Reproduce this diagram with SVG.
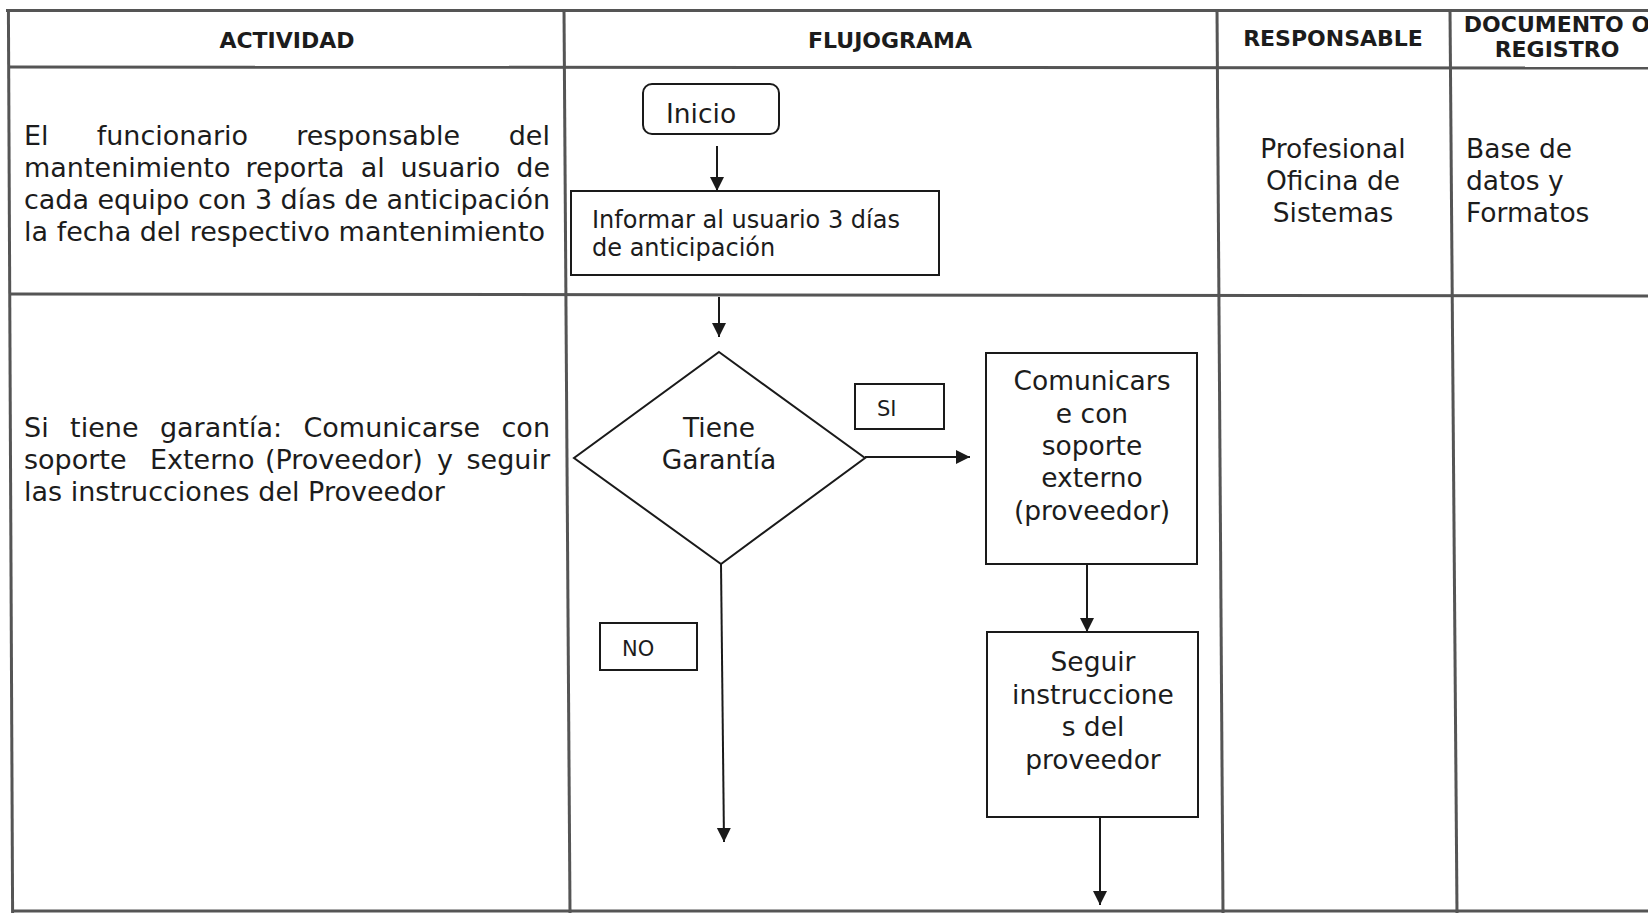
<svg xmlns="http://www.w3.org/2000/svg" width="1648" height="913" viewBox="0 0 1648 913">
<defs>
<marker id="arr" markerUnits="userSpaceOnUse" markerWidth="14" markerHeight="16" refX="14" refY="7" orient="auto">
<path d="M0,0 L14,7 L0,14 Z" fill="#1a1a1a"/>
</marker>
<style>
.grid{stroke:#555;stroke-width:3;fill:none}
.hd{font-family:"DejaVu Sans",Verdana,sans-serif;font-weight:bold;font-size:22px;fill:#1c1c1c;text-anchor:middle}
.tx{font-family:"DejaVu Sans",Verdana,sans-serif;font-size:26.5px;fill:#1c1c1c}
.ta{font-family:"DejaVu Sans",Verdana,sans-serif;font-size:27px;fill:#1c1c1c}
.txc{font-family:"DejaVu Sans",Verdana,sans-serif;font-size:26.5px;fill:#1c1c1c;text-anchor:middle}
.sm{font-family:"DejaVu Sans",Verdana,sans-serif;font-size:24px;fill:#1c1c1c}
.lb{font-family:"DejaVu Sans",Verdana,sans-serif;font-size:21px;fill:#1c1c1c}
.shape{fill:#fff;stroke:#1a1a1a;stroke-width:2}
.conn{stroke:#1a1a1a;stroke-width:2;fill:none}
</style>
</defs>
<rect width="1648" height="913" fill="#fff"/>
<g id="table">
<line class="grid" x1="6" y1="10.5" x2="1660" y2="10.5"/>
<line class="grid" x1="8" y1="67" x2="1660" y2="68"/>
<line class="grid" x1="9" y1="294" x2="1660" y2="296"/>
<line class="grid" x1="12" y1="911" x2="1660" y2="911"/>
<line class="grid" x1="8.4" y1="9" x2="12.6" y2="913"/>
<line class="grid" x1="564" y1="9" x2="570" y2="913"/>
<line class="grid" x1="1217" y1="9" x2="1223" y2="913"/>
<line class="grid" x1="1450" y1="9" x2="1457" y2="913"/>
</g>
<g id="headers">
<text class="hd" x="287" y="48">ACTIVIDAD</text>
<text class="hd" x="890" y="48">FLUJOGRAMA</text>
<text class="hd" x="1333" y="46">RESPONSABLE</text>
<text class="hd" x="1557" y="32">DOCUMENTO O</text>
<text class="hd" x="1557" y="57">REGISTRO</text>
</g>
<g id="actividad1">
<text class="ta" x="24" y="145">El</text>
<text class="ta" x="96.7" y="145">funcionario</text>
<text class="ta" x="296.2" y="145">responsable</text>
<text class="ta" x="550" y="145" text-anchor="end">del</text>
<text class="ta" x="24" y="177">mantenimiento</text>
<text class="ta" x="245.6" y="177">reporta</text>
<text class="ta" x="360.8" y="177">al</text>
<text class="ta" x="400.4" y="177">usuario</text>
<text class="ta" x="550" y="177" text-anchor="end">de</text>
<text class="ta" x="24" y="209" textLength="526" lengthAdjust="spacing">cada equipo con 3 días de anticipación</text>
<text class="ta" x="24" y="241">la fecha del respectivo mantenimiento</text>
</g>
<g id="actividad2">
<text class="ta" x="24" y="437">Si</text>
<text class="ta" x="70.1" y="437">tiene</text>
<text class="ta" x="159.9" y="437">garantía:</text>
<text class="ta" x="303.5" y="437">Comunicarse</text>
<text class="ta" x="550" y="437" text-anchor="end">con</text>
<text class="ta" x="24" y="469">soporte</text>
<text class="ta" x="150" y="469">Externo</text>
<text class="ta" x="265" y="469">(Proveedor)</text>
<text class="ta" x="437" y="469">y</text>
<text class="ta" x="550" y="469" text-anchor="end">seguir</text>
<text class="ta" x="24" y="501">las instrucciones del Proveedor</text>
</g>
<g id="responsable">
<text class="txc" x="1333" y="158">Profesional</text>
<text class="txc" x="1333" y="190">Oficina de</text>
<text class="txc" x="1333" y="222">Sistemas</text>
</g>
<g id="documento">
<text class="tx" x="1466" y="158">Base de</text>
<text class="tx" x="1466" y="190">datos y</text>
<text class="tx" x="1466" y="222">Formatos</text>
</g>
<g id="inicio">
<rect class="shape" x="643" y="84" width="136" height="50" rx="9"/>
<text class="tx" x="666" y="123">Inicio</text>
</g>
<g id="informar">
<rect class="shape" x="571" y="191" width="368" height="84"/>
<text class="sm" x="592" y="228">Informar al usuario 3 días</text>
<text class="sm" x="592" y="256">de anticipación</text>
</g>
<g id="decision">
<polygon class="shape" points="719,352 865,458 721,564 574,458"/>
<text class="txc" x="719" y="437">Tiene</text>
<text class="txc" x="719" y="469">Garantía</text>
</g>
<g id="si">
<rect class="shape" x="855" y="384" width="89" height="45"/>
<text class="lb" x="877" y="416">SI</text>
</g>
<g id="no">
<rect class="shape" x="600" y="623" width="97" height="47"/>
<text class="lb" x="622" y="656">NO</text>
</g>
<g id="comunicarse">
<rect class="shape" x="986" y="353" width="211" height="211"/>
<text class="txc" x="1092" y="390">Comunicars</text>
<text class="txc" x="1092" y="423">e con</text>
<text class="txc" x="1092" y="455">soporte</text>
<text class="txc" x="1092" y="487">externo</text>
<text class="txc" x="1092" y="520">(proveedor)</text>
</g>
<g id="seguir">
<rect class="shape" x="987" y="632" width="211" height="185"/>
<text class="txc" x="1093" y="671">Seguir</text>
<text class="txc" x="1093" y="704">instruccione</text>
<text class="txc" x="1093" y="736">s del</text>
<text class="txc" x="1093" y="769">proveedor</text>
</g>
<g id="connectors">
<line class="conn" x1="717" y1="146" x2="717" y2="191" marker-end="url(#arr)"/>
<line class="conn" x1="719" y1="297" x2="719" y2="337" marker-end="url(#arr)"/>
<line class="conn" x1="865" y1="457" x2="970" y2="457" marker-end="url(#arr)"/>
<line class="conn" x1="721" y1="564" x2="724" y2="842" marker-end="url(#arr)"/>
<line class="conn" x1="1087" y1="564" x2="1087" y2="632" marker-end="url(#arr)"/>
<line class="conn" x1="1100" y1="817" x2="1100" y2="905" marker-end="url(#arr)"/>
</g>
</svg>
